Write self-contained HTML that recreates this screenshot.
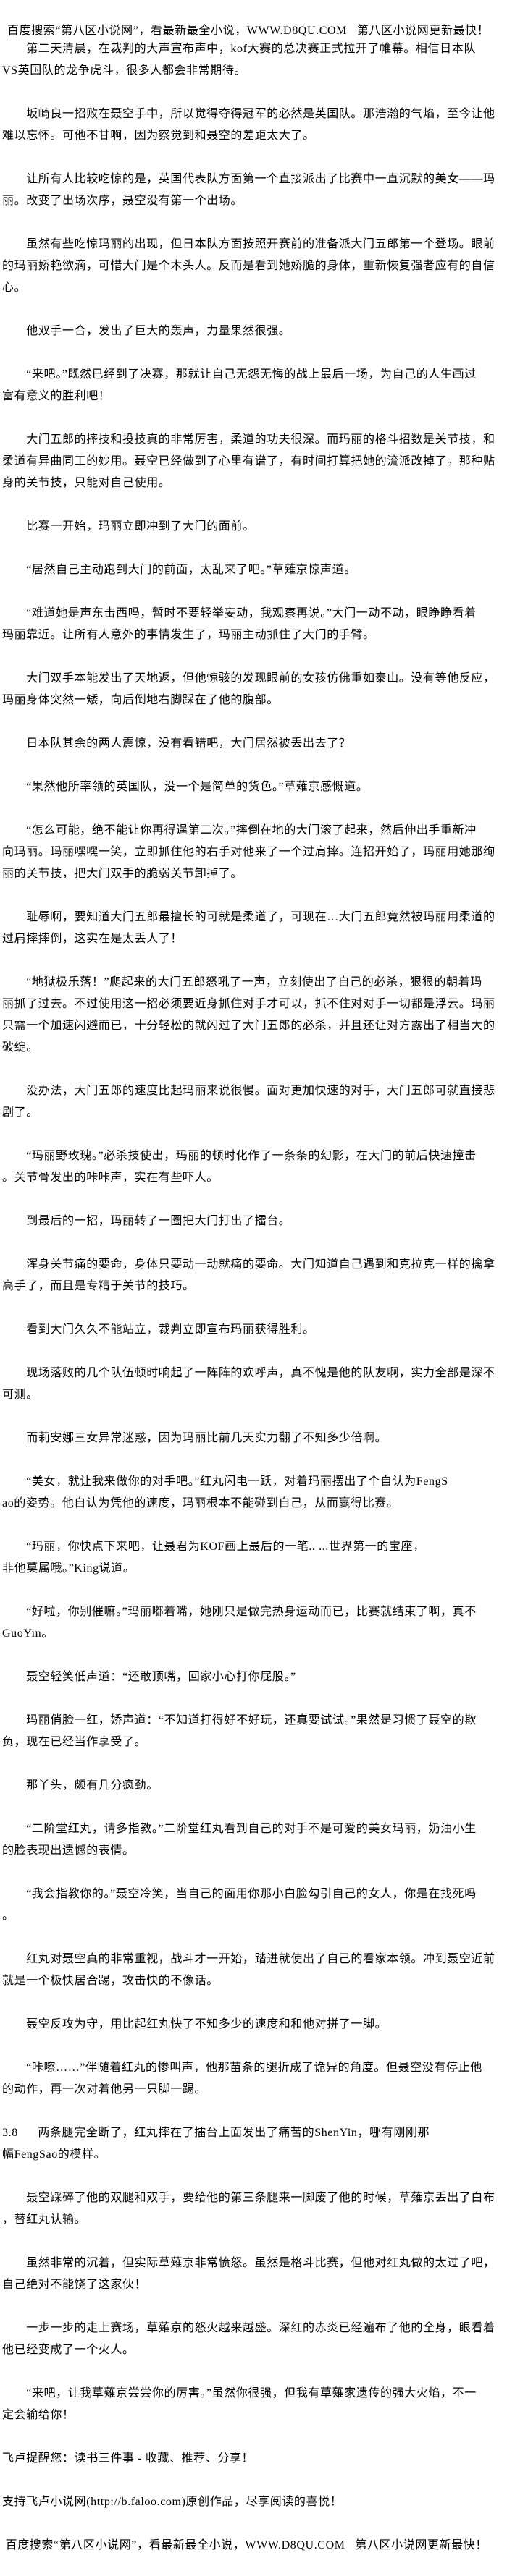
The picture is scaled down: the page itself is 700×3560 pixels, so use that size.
<!DOCTYPE html>
<html><head><meta charset="utf-8">
<style>
html,body{margin:0;padding:0;background:#fff;}
body{width:700px;height:3560px;overflow:hidden;padding-top:28px;box-sizing:border-box;
font-family:"Liberation Serif","Noto Sans CJK SC",sans-serif;font-size:16px;color:#000;letter-spacing:0.6px;}
.l{height:30px;line-height:30px;white-space:nowrap;padding-left:3px;}
.h{height:25px;line-height:30px;white-space:nowrap;padding-left:10px;}
</style></head><body>
<div class="h">百度搜索“第八区小说网”，看最新最全小说，WWW.D8QU.COM&nbsp;&nbsp; 第八区小说网更新最快！</div>
<div class="l">　　第二天清晨，在裁判的大声宣布声中，kof大赛的总决赛正式拉开了帷幕。相信日本队</div>
<div class="l">VS英国队的龙争虎斗，很多人都会非常期待。</div>
<div class="l"></div>
<div class="l">　　坂崎良一招败在聂空手中，所以觉得夺得冠军的必然是英国队。那浩瀚的气焰，至今让他</div>
<div class="l">难以忘怀。可他不甘啊，因为察觉到和聂空的差距太大了。</div>
<div class="l"></div>
<div class="l">　　让所有人比较吃惊的是，英国代表队方面第一个直接派出了比赛中一直沉默的美女——玛</div>
<div class="l">丽。改变了出场次序，聂空没有第一个出场。</div>
<div class="l"></div>
<div class="l">　　虽然有些吃惊玛丽的出现，但日本队方面按照开赛前的准备派大门五郎第一个登场。眼前</div>
<div class="l">的玛丽娇艳欲滴，可惜大门是个木头人。反而是看到她娇脆的身体，重新恢复强者应有的自信</div>
<div class="l">心。</div>
<div class="l"></div>
<div class="l">　　他双手一合，发出了巨大的轰声，力量果然很强。</div>
<div class="l"></div>
<div class="l">　　“来吧。”既然已经到了决赛，那就让自己无怨无悔的战上最后一场，为自己的人生画过</div>
<div class="l">富有意义的胜利吧！</div>
<div class="l"></div>
<div class="l">　　大门五郎的摔技和投技真的非常厉害，柔道的功夫很深。而玛丽的格斗招数是关节技，和</div>
<div class="l">柔道有异曲同工的妙用。聂空已经做到了心里有谱了，有时间打算把她的流派改掉了。那种贴</div>
<div class="l">身的关节技，只能对自己使用。</div>
<div class="l"></div>
<div class="l">　　比赛一开始，玛丽立即冲到了大门的面前。</div>
<div class="l"></div>
<div class="l">　　“居然自己主动跑到大门的前面，太乱来了吧。”草薙京惊声道。</div>
<div class="l"></div>
<div class="l">　　“难道她是声东击西吗，暂时不要轻举妄动，我观察再说。”大门一动不动，眼睁睁看着</div>
<div class="l">玛丽靠近。让所有人意外的事情发生了，玛丽主动抓住了大门的手臂。</div>
<div class="l"></div>
<div class="l">　　大门双手本能发出了天地返，但他惊骇的发现眼前的女孩仿佛重如泰山。没有等他反应，</div>
<div class="l">玛丽身体突然一矮，向后倒地右脚踩在了他的腹部。</div>
<div class="l"></div>
<div class="l">　　日本队其余的两人震惊，没有看错吧，大门居然被丢出去了？</div>
<div class="l"></div>
<div class="l">　　“果然他所率领的英国队，没一个是简单的货色。”草薙京感慨道。</div>
<div class="l"></div>
<div class="l">　　“怎么可能，绝不能让你再得逞第二次。”摔倒在地的大门滚了起来，然后伸出手重新冲</div>
<div class="l">向玛丽。玛丽嘿嘿一笑，立即抓住他的右手对他来了一个过肩摔。连招开始了，玛丽用她那绚</div>
<div class="l">丽的关节技，把大门双手的脆弱关节卸掉了。</div>
<div class="l"></div>
<div class="l">　　耻辱啊，要知道大门五郎最擅长的可就是柔道了，可现在…大门五郎竟然被玛丽用柔道的</div>
<div class="l">过肩摔摔倒，这实在是太丢人了！</div>
<div class="l"></div>
<div class="l">　　“地狱极乐落！”爬起来的大门五郎怒吼了一声，立刻使出了自己的必杀，狠狠的朝着玛</div>
<div class="l">丽抓了过去。不过使用这一招必须要近身抓住对手才可以，抓不住对对手一切都是浮云。玛丽</div>
<div class="l">只需一个加速闪避而已，十分轻松的就闪过了大门五郎的必杀，并且还让对方露出了相当大的</div>
<div class="l">破绽。</div>
<div class="l"></div>
<div class="l">　　没办法，大门五郎的速度比起玛丽来说很慢。面对更加快速的对手，大门五郎可就直接悲</div>
<div class="l">剧了。</div>
<div class="l"></div>
<div class="l">　　“玛丽野玫瑰。”必杀技使出，玛丽的顿时化作了一条条的幻影，在大门的前后快速撞击</div>
<div class="l">。关节骨发出的咔咔声，实在有些吓人。</div>
<div class="l"></div>
<div class="l">　　到最后的一招，玛丽转了一圈把大门打出了擂台。</div>
<div class="l"></div>
<div class="l">　　浑身关节痛的要命，身体只要动一动就痛的要命。大门知道自己遇到和克拉克一样的擒拿</div>
<div class="l">高手了，而且是专精于关节的技巧。</div>
<div class="l"></div>
<div class="l">　　看到大门久久不能站立，裁判立即宣布玛丽获得胜利。</div>
<div class="l"></div>
<div class="l">　　现场落败的几个队伍顿时响起了一阵阵的欢呼声，真不愧是他的队友啊，实力全部是深不</div>
<div class="l">可测。</div>
<div class="l"></div>
<div class="l">　　而莉安娜三女异常迷惑，因为玛丽比前几天实力翻了不知多少倍啊。</div>
<div class="l"></div>
<div class="l">　　“美女，就让我来做你的对手吧。”红丸闪电一跃，对着玛丽摆出了个自认为FengS</div>
<div class="l">ao的姿势。他自认为凭他的速度，玛丽根本不能碰到自己，从而赢得比赛。</div>
<div class="l"></div>
<div class="l">　　“玛丽，你快点下来吧，让聂君为KOF画上最后的一笔.. ...世界第一的宝座，</div>
<div class="l">非他莫属哦。”King说道。</div>
<div class="l"></div>
<div class="l">　　“好啦，你别催嘛。”玛丽嘟着嘴，她刚只是做完热身运动而已，比赛就结束了啊，真不</div>
<div class="l">GuoYin。</div>
<div class="l"></div>
<div class="l">　　聂空轻笑低声道：“还敢顶嘴，回家小心打你屁股。”</div>
<div class="l"></div>
<div class="l">　　玛丽俏脸一红，娇声道：“不知道打得好不好玩，还真要试试。”果然是习惯了聂空的欺</div>
<div class="l">负，现在已经当作享受了。</div>
<div class="l"></div>
<div class="l">　　那丫头，颇有几分疯劲。</div>
<div class="l"></div>
<div class="l">　　“二阶堂红丸，请多指教。”二阶堂红丸看到自己的对手不是可爱的美女玛丽，奶油小生</div>
<div class="l">的脸表现出遗憾的表情。</div>
<div class="l"></div>
<div class="l">　　“我会指教你的。”聂空冷笑，当自己的面用你那小白脸勾引自己的女人，你是在找死吗</div>
<div class="l">。</div>
<div class="l"></div>
<div class="l">　　红丸对聂空真的非常重视，战斗才一开始，踏进就使出了自己的看家本领。冲到聂空近前</div>
<div class="l">就是一个极快居合踢，攻击快的不像话。</div>
<div class="l"></div>
<div class="l">　　聂空反攻为守，用比起红丸快了不知多少的速度和和他对拼了一脚。</div>
<div class="l"></div>
<div class="l">　　“咔嚓……”伴随着红丸的惨叫声，他那苗条的腿折成了诡异的角度。但聂空没有停止他</div>
<div class="l">的动作，再一次对着他另一只脚一踢。</div>
<div class="l"></div>
<div class="l">3.8&nbsp;&nbsp;&nbsp;&nbsp;&nbsp; 两条腿完全断了，红丸摔在了擂台上面发出了痛苦的ShenYin，哪有刚刚那</div>
<div class="l">幅FengSao的模样。</div>
<div class="l"></div>
<div class="l">　　聂空踩碎了他的双腿和双手，要给他的第三条腿来一脚废了他的时候，草薙京丢出了白布</div>
<div class="l">，替红丸认输。</div>
<div class="l"></div>
<div class="l">　　虽然非常的沉着，但实际草薙京非常愤怒。虽然是格斗比赛，但他对红丸做的太过了吧，</div>
<div class="l">自己绝对不能饶了这家伙！</div>
<div class="l"></div>
<div class="l">　　一步一步的走上赛场，草薙京的怒火越来越盛。深红的赤炎已经遍布了他的全身，眼看着</div>
<div class="l">他已经变成了一个火人。</div>
<div class="l"></div>
<div class="l">　　“来吧，让我草薙京尝尝你的厉害。”虽然你很强，但我有草薙家遗传的强大火焰，不一</div>
<div class="l">定会输给你！</div>
<div class="l"></div>
<div class="l">飞卢提醒您：读书三件事 - 收藏、推荐、分享！</div>
<div class="l"></div>
<div class="l">支持飞卢小说网(http://b.faloo.com)原创作品，尽享阅读的喜悦！</div>
<div class="l"></div>
<div class="l">&nbsp;百度搜索“第八区小说网”，看最新最全小说，WWW.D8QU.COM&nbsp;&nbsp; 第八区小说网更新最快！</div>
</body></html>
